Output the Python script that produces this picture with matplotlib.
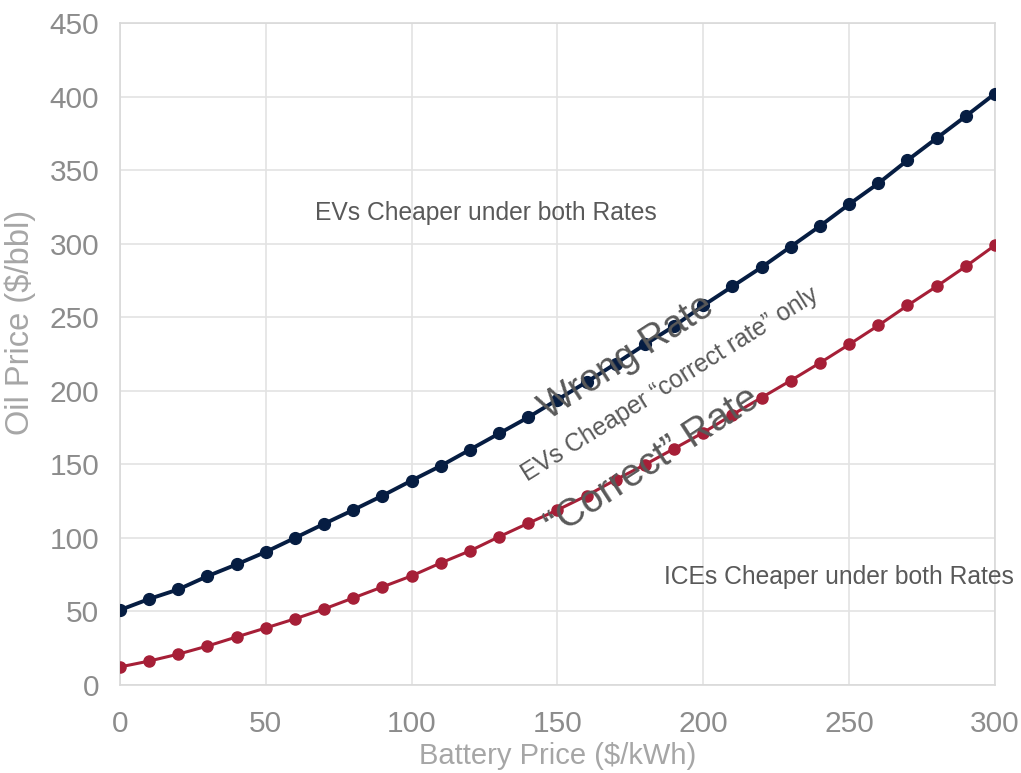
import matplotlib.pyplot as plt

plt.rcParams['font.family'] = ['Liberation Sans', 'DejaVu Sans']

battery_price = list(range(0, 301, 10))
oil_wrong_rate = [51, 58.5, 65, 74, 82, 90.5, 100, 109.6, 119, 128.7,
                  139, 149, 160, 171, 182, 194, 206, 218.5, 231.5, 244,
                  258, 271, 284, 298, 312, 326.8, 341, 356.7, 371.7, 386.7, 402]
oil_correct_rate = [12.3, 16.3, 21, 26.5, 32.7, 38.8, 45, 51.7, 59.2, 66.7,
                    74.2, 83, 91.2, 100.8, 110, 119, 128.7, 139.6, 149.8, 160.7,
                    171.6, 183.8, 195.4, 207, 219, 231.5, 244.4, 258, 271, 284.6, 298.9]

navy = '#061d42'
red = '#a61f37'
text_grey = '#595959'

fig = plt.figure(figsize=(10.21, 7.73), dpi=100)
ax = fig.add_axes([0.1175, 0.1138, 0.857, 0.8564])

ax.plot(battery_price, oil_wrong_rate, color=navy, lw=2.8, marker='o', ms=8.5, zorder=3)
ax.plot(battery_price, oil_correct_rate, color=red, lw=2.2, marker='o', ms=8, zorder=3)

ax.set_xlim(0, 300)
ax.set_ylim(0, 450)
ax.set_xticks(range(0, 301, 50))
ax.set_yticks(range(0, 451, 50))
ax.grid(True, color='#e3e3e3', lw=1.2, zorder=0)
ax.set_axisbelow(True)
for s in ax.spines.values():
    s.set_color('#d9d9d9')
    s.set_linewidth(1.2)
ax.tick_params(length=0, labelsize=21.5, labelcolor='#8c8c8c')
ax.tick_params(axis='x', pad=18)
ax.tick_params(axis='y', pad=15)

ax.set_xlabel('Battery Price ($/kWh)', fontsize=21, color='#a6a6a6', labelpad=3)
ax.set_ylabel('Oil Price ($/bbl)', fontsize=23.5, color='#a6a6a6')
ax.yaxis.set_label_coords(-0.096, 0.547)

ax.text(125.5, 320.6, 'EVs Cheaper under both Rates', fontsize=17.7, color=text_grey,
        ha='center', va='center')
ax.text(246.5, 73.5, 'ICEs Cheaper under both Rates', fontsize=17.7, color=text_grey,
        ha='center', va='center', clip_on=False)
ax.text(173.8, 222.6, 'Wrong Rate', fontsize=27, color=text_grey, rotation=33,
        ha='center', va='center', rotation_mode='anchor', zorder=4)
ax.text(188.6, 204.2, 'EVs Cheaper \u201ccorrect rate\u201d only', fontsize=17.7, color=text_grey,
        rotation=32, ha='center', va='center', rotation_mode='anchor', zorder=4)
ax.text(182.6, 151.5, '\u201cCorrect\u201d Rate', fontsize=28, color=text_grey, rotation=33,
        ha='center', va='center', rotation_mode='anchor', zorder=4)

fig.savefig('out.png', dpi=100)
